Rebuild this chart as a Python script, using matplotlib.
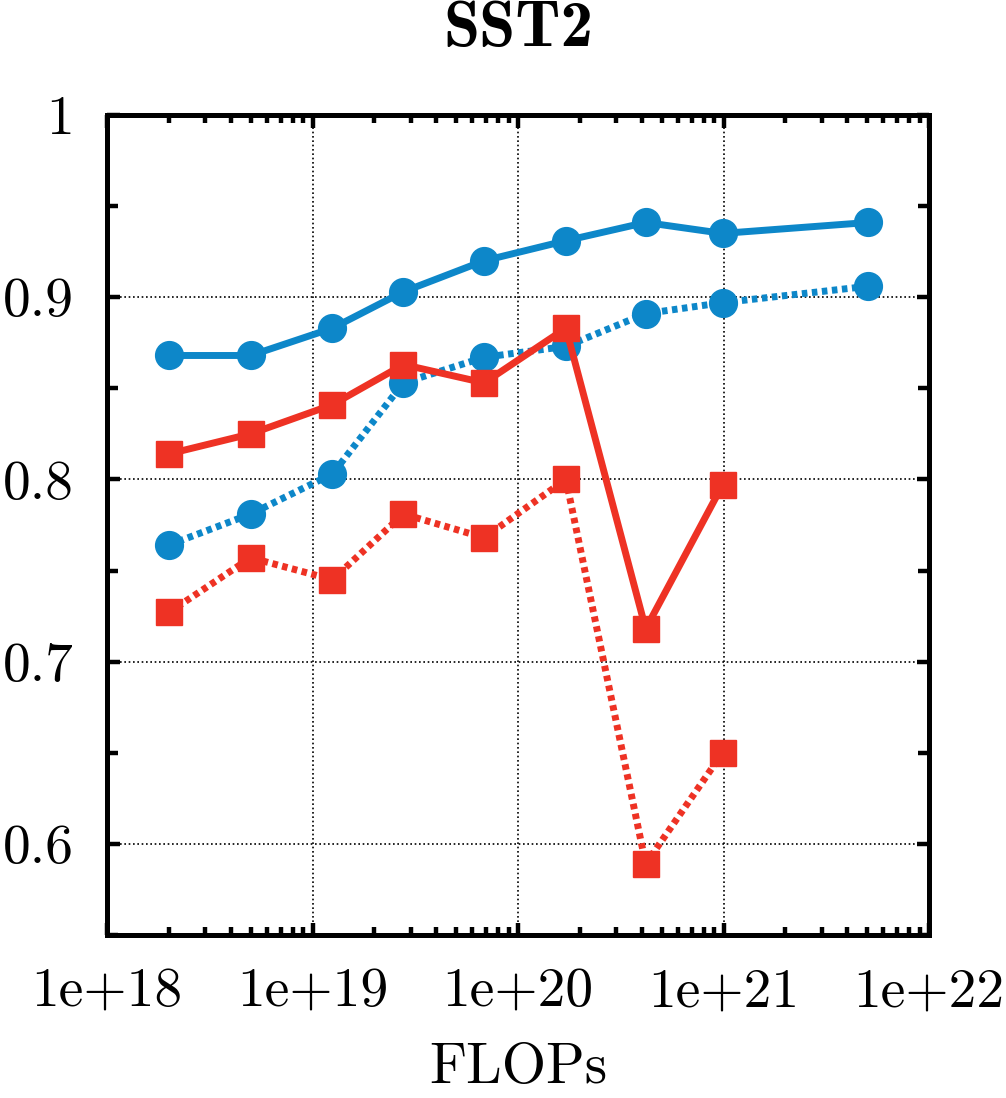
import numpy as np
import matplotlib
matplotlib.use("Agg")
import matplotlib.pyplot as plt
from matplotlib.ticker import FixedLocator, FixedFormatter, LogLocator, NullFormatter

# data
flops = [2.0e18, 5.0e18, 1.25e19, 2.77e19, 6.84e19, 1.71e20, 4.18e20, 9.9e20, 5.06e21]
blue_solid = [0.868, 0.868, 0.883, 0.903, 0.920, 0.931, 0.941, 0.935, 0.941]
blue_dotted = [0.764, 0.781, 0.803, 0.853, 0.867, 0.873, 0.891, 0.897, 0.906]
red_solid = [0.814, 0.825, 0.841, 0.863, 0.853, 0.883, 0.718, 0.797]
red_dotted = [0.727, 0.757, 0.745, 0.781, 0.768, 0.800, 0.589, 0.650]

x_ticks = [1e18, 1e19, 1e20, 1e21, 1e22]
x_labels = ["1e+18", "1e+19", "1e+20", "1e+21", "1e+22"]
y_ticks = [0.6, 0.7, 0.8, 0.9, 1.0]
y_labels = ["0.6", "0.7", "0.8", "0.9", "1"]

BLUE = "#0d87c9"
RED = "#ee3224"

plt.rcParams["font.family"] = ["cmr10", "DejaVu Serif"]
plt.rcParams["axes.formatter.use_mathtext"] = True

fig = plt.figure(figsize=(10.06, 10.98), dpi=100)
ax = fig.add_axes([0.1064, 0.1485, 0.8171, 0.7468])

lw = 5.0
ms = 20
dot = (0.8, 0.65)

ax.plot(flops, blue_solid, "-o", color=BLUE, lw=lw, ms=ms, zorder=4)
ax.plot(flops, blue_dotted, "o", color=BLUE, ls=(0, dot), lw=lw, ms=ms, zorder=3)
ax.plot(flops[:len(red_solid)], red_solid, "-s", color=RED, lw=lw, ms=ms - 1, zorder=4)
ax.plot(flops[:len(red_dotted)], red_dotted, "s", color=RED, ls=(0, dot), lw=lw, ms=ms - 1, zorder=3)

ax.set_xscale("log")
ax.set_xlim(1e18, 1e22)
ax.set_ylim(0.55, 1.0)

ax.xaxis.set_major_locator(FixedLocator(x_ticks))
ax.xaxis.set_major_formatter(FixedFormatter(x_labels))
ax.xaxis.set_minor_locator(LogLocator(base=10, subs=np.arange(2, 10), numticks=20))
ax.xaxis.set_minor_formatter(NullFormatter())
ax.yaxis.set_major_locator(FixedLocator(y_ticks))
ax.yaxis.set_major_formatter(FixedFormatter(y_labels))
ax.yaxis.set_minor_locator(FixedLocator([0.55, 0.65, 0.75, 0.85, 0.95]))

ax.tick_params(which="both", direction="in", top=True, right=True, width=3.2,
               labelsize=40, pad=24)
ax.tick_params(which="major", length=9)
ax.tick_params(which="minor", length=6)
ax.tick_params(axis="y", which="minor", length=8)

for s in ax.spines.values():
    s.set_linewidth(3.6)

ax.grid(True, which="major", color="black", ls=(0, (1, 1.6)), lw=1.2)

ax.set_title("SST2", family=["cmb10", "DejaVu Serif"], fontsize=47, pad=50)
ax.set_xlabel("FLOPs", fontsize=41, labelpad=18)

fig.savefig("out.png", dpi=100)
